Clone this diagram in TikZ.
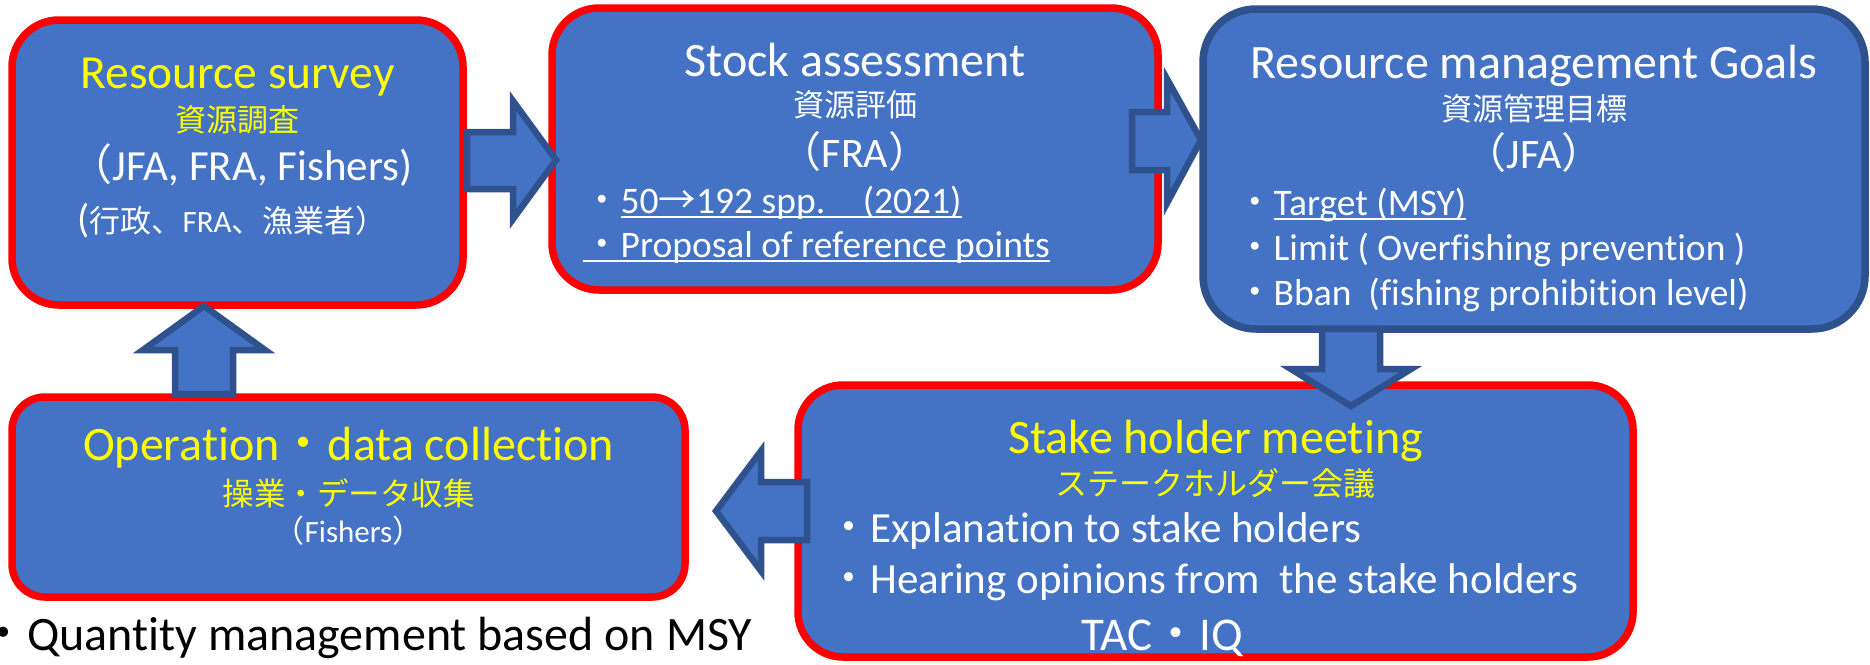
\documentclass[tikz,border=0pt]{standalone}
\usepackage{fontspec}
\setmainfont{Carlito}[Ligatures=NoCommon]
\newfontfamily\jp{Noto Sans CJK JP}
\newcommand\J[1]{{\jp #1}}
\newcommand\fs[1]{\fontsize{#1}{#1}\selectfont}
\newcommand\myul[1]{\setbox0\hbox{#1}\rlap{\rule[-0.14em]{\wd0}{0.055em}}\box0}
\definecolor{fillblue}{HTML}{4472C4}
\definecolor{darkblue}{HTML}{2F528F}
\definecolor{ylw}{HTML}{FFFF00}
\definecolor{redb}{HTML}{FF0000}
\tikzset{
  box/.style={draw=redb, fill=fillblue, line width=7.5pt, inner sep=0pt},
  goalbox/.style={draw=darkblue, fill=fillblue, line width=7.5pt, inner sep=0pt},
  blockarrow/.style={draw=darkblue, fill=fillblue, line width=6.5pt, line join=miter},
  txt/.style={inner sep=0pt, anchor=base, text=white},
  ytxt/.style={txt, text=ylw},
  ltxt/.style={inner sep=0pt, anchor=base west, text=white},
}
\begin{document}
\begin{tikzpicture}[x=1pt,y=-1pt]
\useasboundingbox (0,0) rectangle (1870,664);
% boxes
\node[box, minimum width=451pt, minimum height=285pt, rounded corners=47pt] (b1) at (237.5,162.5) {};
\node[box, minimum width=606pt, minimum height=282pt, rounded corners=47pt] (b2) at (855,149) {};
\node[goalbox, minimum width=662pt, minimum height=320pt, rounded corners=53pt] (b3) at (1534,169) {};
\node[box, minimum width=673pt, minimum height=200pt, rounded corners=33pt] (b4) at (348.5,497) {};
\node[box, minimum width=835pt, minimum height=272pt, rounded corners=45pt] (b5) at (1215.5,521) {};
% block arrows
\draw[blockarrow] (467,132) -- (513,132) -- (513,101) -- (556,160) -- (513,219) -- (513,189) -- (467,189) -- cycle;
\draw[blockarrow] (1132,112) -- (1167,112) -- (1167,79) -- (1201,140) -- (1167,203) -- (1167,170) -- (1132,170) -- cycle;
\draw[blockarrow] (1322,329) -- (1380,329) -- (1380,369) -- (1411,369) -- (1351,406) -- (1291,369) -- (1322,369) -- cycle;
\draw[blockarrow] (175,394) -- (175,350) -- (143,350) -- (204,306) -- (265,350) -- (233,350) -- (233,394) -- cycle;
\draw[blockarrow] (807,482) -- (761,482) -- (761,451) -- (716,511) -- (761,571) -- (761,540) -- (807,540) -- cycle;
% box 1 texts
\node[ytxt] (t1a) at (237.5,88) {\fs{47.5}Resource survey};
\node[ytxt] (t1b) at (237.5,131) {\fs{31}\jp 資源調査};
\node[txt] (t1c) at (241,180) {\fs{43}\J{（}JFA, FRA, Fishers)};
\node[txt] (t1d) at (232,232) {\fs{31}{\fs{40}(}\J{行政、}FRA\J{、漁業者）}};
% box 2 texts
\node[txt] (t2a) at (855,76) {\fs{48}Stock assessment};
\node[txt] (t2b) at (855,116) {\fs{31}\jp 資源評価};
\node[txt] (t2c) at (855,167) {\fs{42}\J{（}FRA\J{）}};
\node[ltxt] (t2d) at (583,213) {\fs{37.5}\J{・}\myul{50\J{→}192 spp.\J{　}(2021)}};
\node[ltxt] (t2e) at (583,257) {\fs{37.5}\myul{\J{・}Proposal of reference points}};
% box 3 texts
\node[txt] (t3a) at (1534,78) {\fs{48}Resource management Goals};
\node[txt] (t3b) at (1534,120) {\fs{31}\jp 資源管理目標};
\node[txt] (t3c) at (1534,168) {\fs{42}\J{（}JFA\J{）}};
\node[ltxt] (t3d) at (1236,215) {\fs{37.5}\J{・}\myul{Target (MSY)}};
\node[ltxt] (t3e) at (1236,260) {\fs{37.5}\J{・}Limit ( Overfishing prevention )};
\node[ltxt] (t3f) at (1236,305) {\fs{37.5}\J{・}Bban\ \ (fishing prohibition level)};
% box 4 texts
\node[ytxt] (t4a) at (348.5,460) {\fs{48}Operation\J{・}data collection};
\node[ytxt] (t4b) at (348.5,505) {\fs{31.5}\jp 操業・データ収集};
\node[txt] (t4c) at (348.5,542) {\fs{31}\J{（}Fishers\J{）}};
% box 5 texts
\node[ytxt] (t5a) at (1215.5,453) {\fs{48}Stake holder meeting};
\node[ytxt] (t5b) at (1215.5,495) {\fs{32}\jp ステークホルダー会議};
\node[ltxt] (t5c) at (827,542) {\fs{43}\J{・}Explanation to stake holders};
\node[ltxt] (t5d) at (827,593) {\fs{43}\J{・}Hearing opinions from\ \ the stake holders};
\node[txt] (t5e) at (1162,650) {\fs{47}TAC\J{・}IQ};
% bottom note
\node[inner sep=0pt, anchor=base west, text=black] (note) at (-21,650) {\fs{48}\J{・}Quantity management based on MSY};
\end{tikzpicture}
\end{document}
